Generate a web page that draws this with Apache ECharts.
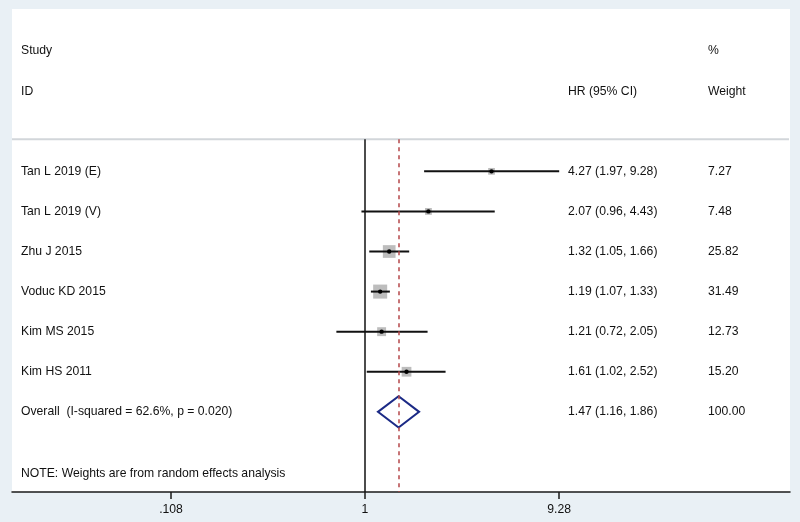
<!DOCTYPE html>
<html>
<head>
<meta charset="utf-8">
<script src="https://cdn.jsdelivr.net/npm/echarts@6/dist/echarts.min.js"></script>
<style>
  html, body { margin: 0; padding: 0; background: #e9f0f5; }
  #chart { width: 800px; height: 522px; }
</style>
</head>
<body>
<div id="chart"></div>
<script>
// study data (hazard ratios, 95% CI, weights)
var studies = ['Tan L 2019 (E)', 'Tan L 2019 (V)', 'Zhu J 2015', 'Voduc KD 2015', 'Kim MS 2015', 'Kim HS 2011'];
var hr = [4.27, 2.07, 1.32, 1.19, 1.21, 1.61];
var lower = [1.97, 0.96, 1.05, 1.07, 0.72, 1.02];
var upper = [9.28, 4.43, 1.66, 1.33, 2.05, 2.52];
var weights = [7.27, 7.48, 25.82, 31.49, 12.73, 15.20];

// pooled estimate
var overallLabel = 'Overall  (I-squared = 62.6%, p = 0.020)';
var overallHR = 1.47;
var overallLower = 1.16;
var overallUpper = 1.86;
var overallWeight = 100.00;

// x axis ticks
var tickValues = [0.108, 1, 9.28];
var tickLabels = ['.108', '1', '9.28'];

var FONT = '"Liberation Sans", Arial, sans-serif';
var TXT = '#111111';
var colStudy = 21, colHR = 568, colW = 708;

function fmt(v) { return v.toFixed(2); }

var rows = studies.map(function (s, i) {
    return [lower[i], upper[i], hr[i], 3 + i, weights[i], i];
});

function text(x, y, str) {
    return {
        type: 'text',
        style: { x: x, y: y, text: str, fill: TXT, font: '12.2px ' + FONT, verticalAlign: 'middle' }
    };
}

var chart = echarts.init(document.getElementById('chart'));
var option = {
    backgroundColor: '#e9f0f5',
    animation: false,
    grid: {
        left: 12, right: 10, top: 9, bottom: 30,
        show: true, backgroundColor: '#ffffff', borderWidth: 0
    },
    xAxis: {
        type: 'log',
        logBase: 10,
        position: 'bottom',
        min: 0.01742,
        max: 131.1,
        splitLine: { show: false },
        axisLine: { show: true, onZero: false, lineStyle: { color: '#1a1a1a', width: 1.5 } },
        axisTick: { show: true, length: 7, lineStyle: { color: '#1a1a1a', width: 1.5 }, customValues: tickValues },
        axisLabel: {
            show: true, margin: 12, color: TXT, fontSize: 12.2, fontFamily: FONT,
            customValues: tickValues,
            formatter: function (v) {
                for (var k = 0; k < tickValues.length; k++) {
                    if (Math.abs(v - tickValues[k]) < 1e-6) return tickLabels[k];
                }
                return '';
            }
        }
    },
    yAxis: {
        type: 'value',
        inverse: true,
        min: -1.05,
        max: 11,
        show: false
    },
    series: [
        {
            // reference lines: null effect and pooled estimate
            type: 'line',
            data: [],
            markLine: {
                silent: true,
                symbol: 'none',
                label: { show: false },
                data: [
                    [{ coord: [1, 2.2], lineStyle: { color: '#111', width: 1.5, type: 'solid' } }, { coord: [1, 11] }],
                    [{ coord: [overallHR, 2.2], lineStyle: { color: '#b5474a', width: 1.5, type: [4, 4] } }, { coord: [overallHR, 11] }]
                ]
            }
        },
        {
            // header and note text
            type: 'custom',
            clip: false,
            silent: true,
            data: [[1, 0]],
            renderItem: function (params, api) {
                var y0 = api.coord([1, 0])[1];
                var y1 = api.coord([1, 1])[1];
                var yN = api.coord([1, 10.53])[1];
                var yS = api.coord([1, 2.2])[1];
                var left = api.coord([0.01742, 0])[0];
                var right = api.coord([131.1, 0])[0];
                return {
                    type: 'group',
                    children: [
                        text(colStudy, y0, 'Study'),
                        text(colW, y0, '%'),
                        text(colStudy, y1, 'ID'),
                        text(colHR, y1, 'HR (95% CI)'),
                        text(colW, y1, 'Weight'),
                        text(colStudy, yN, 'NOTE: Weights are from random effects analysis'),
                        {
                            type: 'line',
                            shape: { x1: left, y1: yS, x2: right - 1, y2: yS },
                            style: { stroke: '#d2d6da', lineWidth: 2 }
                        }
                    ]
                };
            }
        },
        {
            // individual studies
            type: 'custom',
            clip: false,
            silent: true,
            data: rows,
            renderItem: function (params, api) {
                var lo = api.coord([api.value(0), api.value(3)]);
                var hi = api.coord([api.value(1), api.value(3)]);
                var c = api.coord([api.value(2), api.value(3)]);
                var w = api.value(4);
                var i = api.value(5);
                var side = 2.5 * Math.sqrt(w);
                return {
                    type: 'group',
                    children: [
                        {
                            type: 'rect',
                            shape: { x: c[0] - side / 2, y: c[1] - side / 2, width: side, height: side },
                            style: { fill: '#bdbdbd' }
                        },
                        {
                            type: 'line',
                            shape: { x1: lo[0], y1: lo[1], x2: hi[0], y2: hi[1] },
                            style: { stroke: '#111', lineWidth: 2 }
                        },
                        {
                            type: 'circle',
                            shape: { cx: c[0], cy: c[1], r: 2.2 },
                            style: { fill: '#000' }
                        },
                        text(colStudy, c[1], studies[i]),
                        text(colHR, c[1], fmt(hr[i]) + ' (' + fmt(lower[i]) + ', ' + fmt(upper[i]) + ')'),
                        text(colW, c[1], fmt(w))
                    ]
                };
            }
        },
        {
            // pooled diamond
            type: 'custom',
            clip: false,
            silent: true,
            data: [[overallLower, overallUpper, overallHR, 9, overallWeight]],
            renderItem: function (params, api) {
                var row = api.value(3);
                var l = api.coord([api.value(0), row]);
                var r = api.coord([api.value(1), row]);
                var t = api.coord([api.value(2), row - 0.39]);
                var b = api.coord([api.value(2), row + 0.39]);
                return {
                    type: 'group',
                    children: [
                        {
                            type: 'polygon',
                            shape: { points: [l, t, r, b] },
                            style: { fill: 'none', stroke: '#1b2a86', lineWidth: 2 }
                        },
                        text(colStudy, l[1], overallLabel),
                        text(colHR, l[1], fmt(api.value(2)) + ' (' + fmt(api.value(0)) + ', ' + fmt(api.value(1)) + ')'),
                        text(colW, l[1], fmt(api.value(4)))
                    ]
                };
            }
        }
    ]
};
chart.setOption(option);
</script>
</body>
</html>
